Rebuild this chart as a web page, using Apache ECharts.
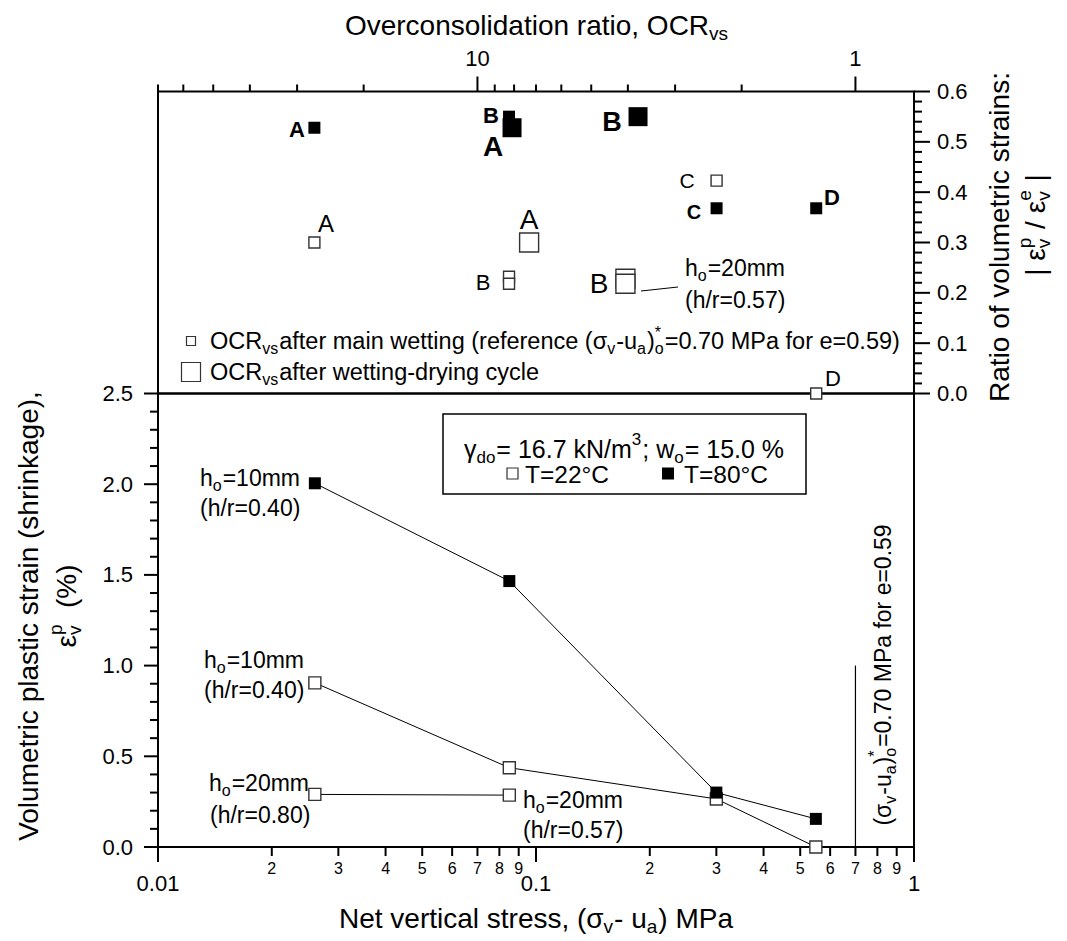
<!DOCTYPE html>
<html><head><meta charset="utf-8">
<script src="https://cdn.jsdelivr.net/npm/echarts@6/dist/echarts.min.js"></script>
<style>html,body{margin:0;padding:0;background:#fff}#c{width:1067px;height:941px}</style>
</head><body><div id="c"></div>
<script>
// ================= DATA =================
// bottom axis: net vertical stress (MPa), log
const stressMajorTicks = [0.01, 0.1, 1];
const stressMajorLabels = ['0.01', '0.1', '1'];
const stressMinorTicks = [0.02,0.03,0.04,0.05,0.06,0.07,0.08,0.09,0.2,0.3,0.4,0.5,0.6,0.7,0.8,0.9];
const stressMinorLabels = ['2','3','4','5','6','7','8','9','2','3','4','5','6','7','8','9'];
// top axis: overconsolidation ratio, log, reversed
const ocrMajorTicks = [10, 1];
const ocrMajorLabels = ['10', '1'];
const ocrMinorTicks = [70,60,50,40,30,20,9,8,7,6,5,4,3,2];
// right axis (upper panel): ratio of volumetric strains
const ratioMajorTicks = [0,0.1,0.2,0.3,0.4,0.5,0.6];
const ratioMajorLabels = ['0.0','0.1','0.2','0.3','0.4','0.5','0.6'];
const ratioMinorTicks = [0.02,0.04,0.06,0.08,0.12,0.14,0.16,0.18,0.22,0.24,0.26,0.28,0.32,0.34,0.36,0.38,0.42,0.44,0.46,0.48,0.52,0.54,0.56,0.58];
// left axis (lower panel): volumetric plastic strain (%)
const strainMajorTicks = [0,0.5,1,1.5,2,2.5];
const strainMajorLabels = ['0.0','0.5','1.0','1.5','2.0','2.5'];
const strainMinorTicks = [0.1,0.2,0.3,0.4,0.6,0.7,0.8,0.9,1.1,1.2,1.3,1.4,1.6,1.7,1.8,1.9,2.1,2.2,2.3,2.4];

// upper panel: [OCR, ratio]
const ocrOpenSmall   = [[27, 0.30], [8.25, 0.232], [8.25, 0.218], [2.33, 0.423], [1.27, 0.0]];
const ocrOpenBig     = [[7.3, 0.30], [4.06, 0.228], [4.06, 0.218]];
const ocrFilledSmall = [[27, 0.528], [8.25, 0.55], [2.33, 0.368], [1.27, 0.368]];
const ocrFilledBig   = [[8.1, 0.528], [3.76, 0.55]];

// lower panel
const stressH10 = [0.026, 0.085, 0.3, 0.55];
const strainH10T22 = [0.905, 0.437, 0.265, 0.0];
const strainH10T80 = [2.005, 1.466, 0.30, 0.155];
const stressH20 = [0.026, 0.085];
const strainH20T22 = [0.29, 0.286];
const refStress = 0.70;
const refLineStrain = [0, 1.0];

// ================= HELPERS =================
const FONT = '"Liberation Sans", Arial, Helvetica, sans-serif';
const mctx = document.createElement('canvas').getContext('2d');
function tw(s, size, bold) { mctx.font = (bold ? 'bold ' : '') + size + 'px ' + FONT; return mctx.measureText(s).width; }
function txtEl(s, x, y, fs, bold) {
  return {type: 'text', x: x, y: y, silent: true,
    style: {text: s, fontSize: fs, fontFamily: FONT, fontWeight: bold ? 'bold' : 'normal', fill: '#000',
      align: 'left', verticalAlign: 'middle', textAlign: 'left', textVerticalAlign: 'middle'}};
}
function mtext(segs, o) {
  const size = o.size, small = Math.round(size * 0.68), bold = !!o.bold;
  const kids = []; let cx = 0;
  segs.forEach(function (sg) {
    if (typeof sg === 'string') { kids.push(txtEl(sg, cx, 0, size, bold)); cx += tw(sg, size, bold); }
    else {
      let wmax = 0;
      if (sg.sub != null) { kids.push(txtEl(sg.sub, cx, size * 0.32, small, bold)); wmax = Math.max(wmax, tw(sg.sub, small, bold)); }
      if (sg.sup != null) { kids.push(txtEl(sg.sup, cx, -size * 0.38, small, bold)); wmax = Math.max(wmax, tw(sg.sup, small, bold)); }
      cx += wmax + 1;
    }
  });
  const off = o.align === 'center' ? -cx / 2 : (o.align === 'right' ? -cx : 0);
  kids.forEach(function (k) { k.x += off; });
  return {type: 'group', x: o.x, y: o.y, rotation: o.rot || 0, children: kids, silent: true};
}
function letter(s, x, y, size, bold) {
  return {type: 'text', x: x, y: y, silent: true,
    style: {text: s, fontSize: size, fontFamily: FONT, fontWeight: bold ? 'bold' : 'normal', fill: '#000',
      align: 'center', verticalAlign: 'middle', textAlign: 'center', textVerticalAlign: 'middle'}};
}
function tickSeries(xi, yi, kind, values, labels, major) {
  return {
    type: 'custom', xAxisIndex: xi, yAxisIndex: yi, clip: false, silent: true, z: 5,
    data: values.map(function (v) { return [v]; }),
    renderItem: function (params, api) {
      const v = api.value(0);
      const lab = labels ? labels[params.dataIndex] : null;
      let p, x2, y2, tx, ty, align, len, fs = major ? 22 : 16;
      if (kind === 'bottom') { p = api.coord([v, 0]); len = major ? 15 : 9; x2 = p[0]; y2 = p[1] + len; tx = p[0]; ty = p[1] + (major ? 36 : 21); align = 'center'; }
      else if (kind === 'top') { p = api.coord([v, 0.6]); len = major ? 15 : 7; x2 = p[0]; y2 = p[1] - len; tx = p[0]; ty = p[1] - 33; align = 'center'; }
      else if (kind === 'right') { p = api.coord([0.7, v]); len = major ? 16 : 8; x2 = p[0] + len; y2 = p[1]; tx = p[0] + 23; ty = p[1]; align = 'left'; }
      else { p = api.coord([0.01, v]); len = major ? 14 : 8; x2 = p[0] - len; y2 = p[1]; tx = p[0] - 25; ty = p[1]; align = 'right'; }
      const children = [{type: 'line', shape: {x1: p[0], y1: p[1], x2: x2, y2: y2}, style: {stroke: '#000', lineWidth: 2}}];
      if (lab) children.push({type: 'text', style: {text: lab, x: tx, y: ty, align: align, verticalAlign: 'middle',
        textAlign: align, textVerticalAlign: 'middle', fontSize: fs, fontFamily: FONT, fill: '#000'}});
      return {type: 'group', children: children};
    }
  };
}
function zipXY(xs, ys) { return xs.map(function (x, i) { return [x, ys[i]]; }); }

const openStyle = {color: '#fff', borderColor: '#333', borderWidth: 1.4, opacity: 1};
const filledStyle = {color: '#000', borderColor: '#000', borderWidth: 0, opacity: 1};
const hiddenAxis = {axisLine: {show: false}, axisTick: {show: false}, axisLabel: {show: false}, splitLine: {show: false}};

const ROT = Math.PI / 2;
const graphics = [
  // axis titles
  mtext(['Overconsolidation ratio, OCR', {sub: 'vs'}], {x: 537, y: 25, size: 28, align: 'center'}),
  mtext(['Net vertical stress, (σ', {sub: 'v'}, '- u', {sub: 'a'}, ') MPa'], {x: 536, y: 918, size: 28, align: 'center'}),
  mtext(['Volumetric plastic strain (shrinkage),'], {x: 28, y: 616, size: 28, align: 'center', rot: ROT}),
  mtext(['ε', {sub: 'v', sup: 'p'}, '  (%)'], {x: 66, y: 606, size: 28, align: 'center', rot: ROT}),
  mtext(['Ratio of volumetric strains:'], {x: 999, y: 237, size: 28, align: 'center', rot: ROT}),
  mtext(['| ε', {sub: 'v', sup: 'p'}, ' / ε', {sub: 'v', sup: 'e'}, ' |'], {x: 1035, y: 225, size: 28, align: 'center', rot: ROT}),
  // vertical reference annotation
  mtext(['(σ', {sub: 'v'}, '-u', {sub: 'a'}, ')', {sub: 'o', sup: '*'}, '=0.70 MPa for e=0.59'], {x: 883, y: 675, size: 23, align: 'center', rot: ROT}),
  // upper legend
  {type: 'rect', shape: {x: 186.5, y: 336.5, width: 9, height: 9}, style: {fill: '#fff', stroke: '#333', lineWidth: 1.2}, silent: true},
  mtext(['OCR', {sub: 'vs'}, 'after main wetting (reference (σ', {sub: 'v'}, '-u', {sub: 'a'}, ')', {sub: 'o', sup: '*'}, '=0.70 MPa for e=0.59)'], {x: 210, y: 341, size: 23.5}),
  {type: 'rect', shape: {x: 181.5, y: 362.5, width: 19, height: 19}, style: {fill: '#fff', stroke: '#333', lineWidth: 1.2}, silent: true},
  mtext(['OCR', {sub: 'vs'}, 'after wetting-drying cycle'], {x: 210, y: 372, size: 23.5}),
  // upper point letters
  letter('A', 297, 129, 22, true), letter('B', 491, 115, 22, true), letter('A', 493, 146, 28, true),
  letter('B', 612, 122, 27, true), letter('C', 687, 180, 21, false), letter('C', 694, 212, 20, true),
  letter('D', 832, 197, 22, true), letter('A', 326, 223, 24, false), letter('A', 529, 219, 28, false),
  letter('B', 483, 282, 22, false), letter('B', 599, 283, 28, false), letter('D', 833, 378, 22, false),
  mtext(['h', {sub: 'o'}, '=20mm'], {x: 685, y: 268, size: 23}),
  mtext(['(h/r=0.57)'], {x: 685, y: 300, size: 23}),
  {type: 'line', shape: {x1: 641, y1: 291, x2: 678, y2: 287}, style: {stroke: '#000', lineWidth: 1}, silent: true},
  // lower legend box
  {type: 'rect', shape: {x: 443, y: 414, width: 363, height: 80}, style: {fill: 'none', stroke: '#000', lineWidth: 1.5}, silent: true},
  mtext(['γ', {sub: 'do'}, '= 16.7 kN/m', {sup: '3'}, '; w', {sub: 'o'}, '= 15.0 %'], {x: 624, y: 449, size: 25, align: 'center'}),
  {type: 'rect', shape: {x: 507, y: 468, width: 11, height: 11}, style: {fill: '#fff', stroke: '#333', lineWidth: 1.2}, silent: true},
  mtext(['T=22°C'], {x: 525, y: 474, size: 24.5}),
  {type: 'rect', shape: {x: 662, y: 467.5, width: 12, height: 12}, style: {fill: '#000'}, silent: true},
  mtext(['T=80°C'], {x: 684, y: 474, size: 24.5}),
  // lower annotations
  mtext(['h', {sub: 'o'}, '=10mm'], {x: 200, y: 478, size: 23}),
  mtext(['(h/r=0.40)'], {x: 200, y: 508, size: 23}),
  mtext(['h', {sub: 'o'}, '=10mm'], {x: 204, y: 660, size: 23}),
  mtext(['(h/r=0.40)'], {x: 204, y: 690, size: 23}),
  mtext(['h', {sub: 'o'}, '=20mm'], {x: 209, y: 783, size: 23}),
  mtext(['(h/r=0.80)'], {x: 210, y: 815, size: 23}),
  mtext(['h', {sub: 'o'}, '=20mm'], {x: 523, y: 800, size: 23}),
  mtext(['(h/r=0.57)'], {x: 523, y: 830, size: 23})
];

const chart = echarts.init(document.getElementById('c'), null, {renderer: 'svg', width: 1067, height: 941});
chart.setOption({
  animation: false,
  backgroundColor: '#fff',
  grid: [
    {left: 158, top: 91.5, width: 756, height: 302, show: true, borderColor: '#000', borderWidth: 2, backgroundColor: 'transparent'},
    {left: 158, top: 393.5, width: 756, height: 453.5, show: true, borderColor: '#000', borderWidth: 2, backgroundColor: 'transparent'}
  ],
  xAxis: [
    Object.assign({gridIndex: 0, type: 'log', logBase: 10, min: 0.7, max: 70, inverse: true, position: 'top'}, hiddenAxis),
    Object.assign({gridIndex: 1, type: 'log', logBase: 10, min: 0.01, max: 1, position: 'bottom'}, hiddenAxis)
  ],
  yAxis: [
    Object.assign({gridIndex: 0, type: 'value', min: 0, max: 0.6, position: 'right'}, hiddenAxis),
    Object.assign({gridIndex: 1, type: 'value', min: 0, max: 2.5, position: 'left'}, hiddenAxis)
  ],
  series: [
    tickSeries(1, 1, 'bottom', stressMajorTicks, stressMajorLabels, true),
    tickSeries(1, 1, 'bottom', stressMinorTicks, stressMinorLabels, false),
    tickSeries(0, 0, 'top', ocrMajorTicks, ocrMajorLabels, true),
    tickSeries(0, 0, 'top', ocrMinorTicks, null, false),
    tickSeries(0, 0, 'right', ratioMajorTicks, ratioMajorLabels, true),
    tickSeries(0, 0, 'right', ratioMinorTicks, null, false),
    tickSeries(1, 1, 'left', strainMajorTicks, strainMajorLabels, true),
    tickSeries(1, 1, 'left', strainMinorTicks, null, false),
    {type: 'scatter', xAxisIndex: 0, yAxisIndex: 0, clip: false, symbol: 'rect', symbolSize: 11, itemStyle: openStyle, data: ocrOpenSmall, z: 3},
    {type: 'scatter', xAxisIndex: 0, yAxisIndex: 0, clip: false, symbol: 'rect', symbolSize: 19, itemStyle: openStyle, data: ocrOpenBig, z: 3},
    {type: 'scatter', xAxisIndex: 0, yAxisIndex: 0, clip: false, symbol: 'rect', symbolSize: 12, itemStyle: filledStyle, data: ocrFilledSmall, z: 3},
    {type: 'scatter', xAxisIndex: 0, yAxisIndex: 0, clip: false, symbol: 'rect', symbolSize: 19, itemStyle: filledStyle, data: ocrFilledBig, z: 3},
    {type: 'line', xAxisIndex: 1, yAxisIndex: 1, data: [[refStress, refLineStrain[0]], [refStress, refLineStrain[1]]], showSymbol: false, symbol: 'none', lineStyle: {color: '#000', width: 1.2}, z: 2},
    {type: 'line', xAxisIndex: 1, yAxisIndex: 1, clip: false, data: zipXY(stressH20, strainH20T22), symbol: 'rect', symbolSize: 12, lineStyle: {color: '#000', width: 1}, itemStyle: openStyle, z: 3},
    {type: 'line', xAxisIndex: 1, yAxisIndex: 1, clip: false, data: zipXY(stressH10, strainH10T22), symbol: 'rect', symbolSize: 12, lineStyle: {color: '#000', width: 1}, itemStyle: openStyle, z: 3},
    {type: 'line', xAxisIndex: 1, yAxisIndex: 1, clip: false, data: zipXY(stressH10, strainH10T80), symbol: 'rect', symbolSize: 12, lineStyle: {color: '#000', width: 1}, itemStyle: filledStyle, z: 4}
  ],
  graphic: graphics
});
</script></body></html>
